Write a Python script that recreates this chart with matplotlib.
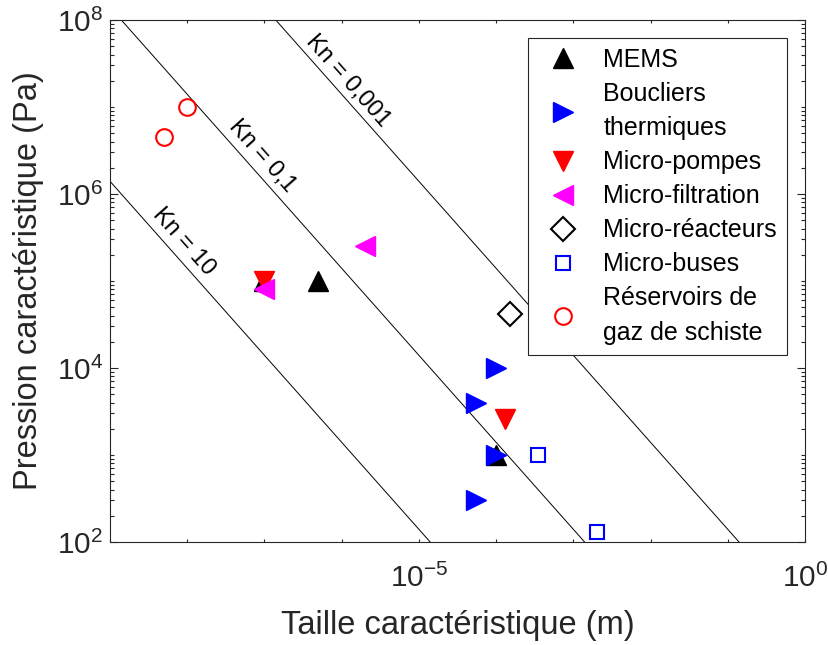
import numpy as np
import matplotlib
matplotlib.use("Agg")
import matplotlib.pyplot as plt
from matplotlib.ticker import FixedLocator, NullFormatter

plt.rcParams['font.family'] = ['Liberation Sans', 'DejaVu Sans']
plt.rcParams['mathtext.default'] = 'regular'

# Données (taille en m, pression en Pa)
mems_x = [1e-7, 5e-7, 1e-4]
mems_p = [1e5, 1e5, 1e3]
bouc_x = [1e-4, 5.5e-5, 1e-4, 5.5e-5]
bouc_p = [1e4, 4e3, 1e3, 3e2]
pomp_x = [1e-7, 1.3e-4]
pomp_p = [1e5, 2.6e3]
filt_x = [1e-7, 2e-6]
filt_p = [8e4, 2.5e5]
reac_x = [1.5e-4]
reac_p = [4.2e4]
buse_x = [3.5e-4, 2e-3]
buse_p = [1e3, 1.3e2]
res_x = [5e-9, 1e-8]
res_p = [4.5e6, 1e7]

# Lignes de Knudsen : p * L = C / Kn
C_kn = 0.014
kn_values = [10, 0.1, 0.001]
kn_labels = ['Kn = 10', 'Kn = 0,1', 'Kn = 0,001']
kn_text_pos = [(9.1e-9, 2.8e5), (9.3e-8, 2.7e6), (1.2e-6, 2.0e7)]

xticks = [10.0 ** k for k in range(-9, 1)]
xticklabels = ['' if k not in (-5, 0) else '$10^{%d}$' % k for k in range(-9, 1)]
yticks = [1e2, 1e4, 1e6, 1e8]
yticklabels = ['$10^{2}$', '$10^{4}$', '$10^{6}$', '$10^{8}$']

grey = '#262626'

fig = plt.figure(figsize=(8.29, 6.45), dpi=100)
ax = fig.add_axes([0.1327, 0.1597, 0.8383, 0.8093])
ax.set_xscale('log')
ax.set_yscale('log')
ax.set_xlim(1e-9, 1)
ax.set_ylim(1e2, 1e8)

L = np.logspace(-9, 0, 200)
for kn in kn_values:
    ax.plot(L, C_kn / (kn * L), color='black', lw=0.7, zorder=1)

# angle des lignes à l'écran
p1 = ax.transData.transform((1e-8, 1e7))
p2 = ax.transData.transform((1e-7, 1e6))
angle = np.degrees(np.arctan2(p2[1] - p1[1], p2[0] - p1[0]))
for lab, (tx, ty) in zip(kn_labels, kn_text_pos):
    ax.text(tx, ty, lab, rotation=angle, rotation_mode='anchor',
            ha='center', va='center', fontsize=17, color='black')

ax.plot(mems_x, mems_p, '^', color='black', ms=15, ls='none', label='MEMS')
ax.plot(bouc_x, bouc_p, '>', color='blue', ms=15, ls='none', label='Boucliers\nthermiques')
ax.plot(pomp_x, pomp_p, 'v', color='red', ms=15, ls='none', label='Micro-pompes')
ax.plot(filt_x, filt_p, '<', color='magenta', ms=15, ls='none', label='Micro-filtration')
ax.plot(reac_x, reac_p, 'D', mfc='none', mec='black', mew=1.5, ms=12.5, ls='none', label='Micro-réacteurs')
ax.plot(buse_x, buse_p, 's', mfc='none', mec='blue', mew=1.5, ms=9.5, ls='none', label='Micro-buses')
ax.plot(res_x, res_p, 'o', mfc='none', mec='red', mew=1.5, ms=12, ls='none', label='Réservoirs de\ngaz de schiste')

ax.set_xticks(xticks)
ax.set_xticklabels(xticklabels)
ax.xaxis.set_minor_locator(FixedLocator([]))
ax.set_yticks(yticks)
ax.set_yticklabels(yticklabels)
ax.yaxis.set_minor_locator(FixedLocator([m * 10.0 ** k for k in range(2, 8) for m in range(1, 10)]))
ax.yaxis.set_minor_formatter(NullFormatter())

ax.tick_params(axis='both', which='both', direction='in', top=True, right=True,
               colors=grey, labelsize=21.5, width=0.8)
ax.tick_params(axis='x', which='major', length=2.5, pad=16)
ax.tick_params(axis='y', which='major', length=6, pad=5)
ax.tick_params(axis='y', which='minor', length=3)
for s in ax.spines.values():
    s.set_color(grey)
    s.set_linewidth(0.8)

ax.set_xlabel('Taille caractéristique (m)', fontsize=23.5, color=grey)
ax.set_ylabel('Pression caractéristique (Pa)', fontsize=23.5, color=grey)
ax.xaxis.set_label_coords(0.5, -0.131)
ax.yaxis.set_label_coords(-0.095, 0.5)

leg = ax.legend(loc='upper right', bbox_to_anchor=(0.974, 0.9655), borderaxespad=0,
                fontsize=18, fancybox=False, framealpha=1, edgecolor=grey,
                handlelength=2.0, handletextpad=0.6, borderpad=0.4, labelspacing=0.4,
                numpoints=1)
leg.get_frame().set_linewidth(0.8)
for t in leg.get_texts():
    t.set_linespacing(1.55)

fig.savefig('out.png', dpi=100)
